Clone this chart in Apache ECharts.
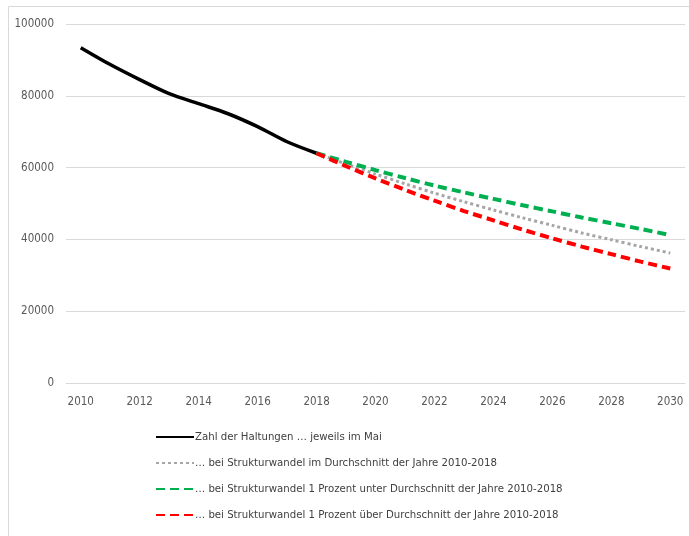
<!DOCTYPE html>
<html>
<head>
<meta charset="utf-8">
<script src="https://cdn.jsdelivr.net/npm/echarts@6/dist/echarts.min.js"></script>
<style>
  html, body { margin: 0; padding: 0; background: #fff; }
  #main { width: 689px; height: 536px; }
</style>
</head>
<body>
<div id="main"></div>
<script type="text/javascript">
// Jahre 2010-2030
var years = ['2010','2011','2012','2013','2014','2015','2016','2017','2018','2019',
  '2020','2021','2022','2023','2024','2025','2026','2027','2028','2029','2030'];

// Zahl der Haltungen (Ist), jeweils im Mai
var actual = [93400, 88700, 84500, 80600, 77800, 75000, 71400, 67200, 64000,
  null, null, null, null, null, null, null, null, null, null, null, null];

// Projektionen ab 2018
var projAvg = [null, null, null, null, null, null, null, null,
  64000, 61000, 58200, 55500, 52900, 50500, 48200, 46000, 43900, 41800, 39900, 38000, 36200];
var projBelow = [null, null, null, null, null, null, null, null,
  64000, 61600, 59300, 57100, 55000, 53100, 51300, 49500, 47800, 46100, 44500, 42900, 41200];
var projAbove = [null, null, null, null, null, null, null, null,
  64000, 60400, 57000, 53800, 50800, 47900, 45300, 42700, 40300, 38000, 35900, 33800, 31900];

var seriesNames = [
  'Zahl der Haltungen … jeweils im Mai',
  '… bei Strukturwandel im Durchschnitt der Jahre 2010-2018',
  '… bei Strukturwandel 1 Prozent unter Durchschnitt der Jahre 2010-2018',
  '… bei Strukturwandel 1 Prozent über Durchschnitt der Jahre 2010-2018'
];

var font = '"DejaVu Sans Condensed", "Liberation Sans Narrow", sans-serif';

var myChart = echarts.init(document.getElementById('main'));
var option = {
  backgroundColor: '#fff',
  animation: false,
  graphic: [{
    type: 'rect',
    shape: { x: 8.5, y: 6.5, width: 690, height: 540 },
    style: { fill: 'none', stroke: '#d9d9d9', lineWidth: 1 },
    silent: true
  }],
  grid: { left: 66, right: 4, top: 24, bottom: 153 },
  legend: {
    orient: 'vertical',
    left: 150,
    top: 425,
    itemWidth: 38,
    itemHeight: 14,
    itemGap: 12,
    itemStyle: { color: 'rgba(0,0,0,0)', borderWidth: 0 },
    textStyle: {
      color: '#404040', fontSize: 11.3, fontFamily: font,
      lineHeight: 14, padding: [0, 0, 0, -4]
    },
    data: seriesNames
  },
  xAxis: {
    type: 'category',
    data: years,
    boundaryGap: true,
    axisLine: { lineStyle: { color: '#d9d9d9', width: 1 } },
    axisTick: { show: false },
    axisLabel: { interval: 1, color: '#595959', fontSize: 11.5, fontFamily: font, margin: 13 }
  },
  yAxis: {
    type: 'value',
    min: 0,
    max: 100000,
    interval: 20000,
    axisLine: { show: false },
    axisTick: { show: false },
    splitLine: { lineStyle: { color: '#d9d9d9', width: 1 } },
    axisLabel: {
      color: '#595959', fontSize: 11.5, fontFamily: font, margin: 12,
      formatter: function (v) { return String(v); }
    }
  },
  series: [
    {
      name: seriesNames[0], type: 'line', data: actual, symbol: 'none', smooth: 0.3,
      itemStyle: { color: '#000' },
      lineStyle: { color: '#000', width: 3.5 }
    },
    {
      name: seriesNames[1], type: 'line', data: projAvg, symbol: 'none', smooth: 0.3,
      itemStyle: { color: '#a6a6a6' },
      lineStyle: { color: '#a6a6a6', width: 3, type: [3, 3] }
    },
    {
      name: seriesNames[2], type: 'line', data: projBelow, symbol: 'none', smooth: 0.3,
      itemStyle: { color: '#00b050' },
      lineStyle: { color: '#00b050', width: 4, type: [9, 5] }
    },
    {
      name: seriesNames[3], type: 'line', data: projAbove, symbol: 'none', smooth: 0.3,
      itemStyle: { color: '#ff0000' },
      lineStyle: { color: '#ff0000', width: 4, type: [9, 5] }
    }
  ]
};
myChart.setOption(option);
</script>
</body>
</html>
